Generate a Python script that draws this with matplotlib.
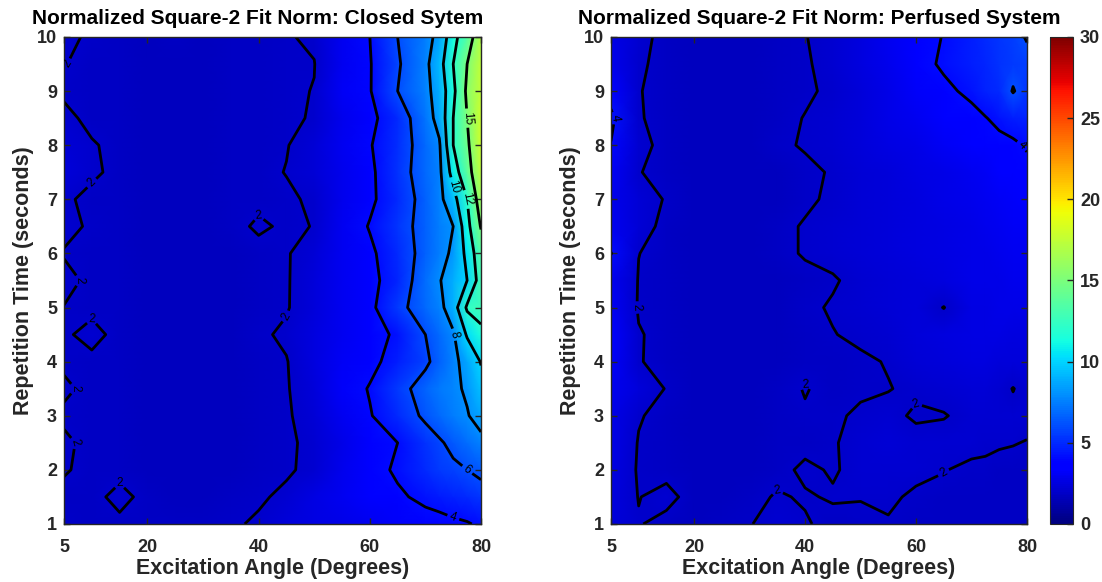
import numpy as np
import matplotlib
matplotlib.use('Agg')
import matplotlib.pyplot as plt

plt.rcParams['font.family'] = ['Liberation Sans', 'DejaVu Sans']

# grid: excitation angle (deg) across, repetition time (s) up
angles = [5, 10, 15, 20, 25, 30, 35, 40, 45, 50, 55, 60, 65, 70, 72.5, 75, 77.5, 80]
rep_times = [1.0, 1.5, 2.0, 2.5, 3.0, 3.5, 4.0, 4.5, 5.0, 5.5,
             6.0, 6.5, 7.0, 7.5, 8.0, 8.5, 9.0, 9.5, 10.0]

# fit norm, closed system (one row per repetition time)
closed_fit = [
    [1.95, 1.85, 1.85, 1.8, 1.8, 1.8, 1.9, 2.1, 2.4, 2.6, 2.8, 3.0, 3.2, 3.5, 3.6, 3.75, 3.9, 4.2],
    [1.85, 1.8, 2.2, 1.8, 1.75, 1.75, 1.8, 1.9, 2.15, 2.6, 3.0, 3.4, 3.8, 4.3, 4.5, 4.8, 5.0, 5.3],
    [2.05, 1.85, 1.8, 1.75, 1.75, 1.75, 1.75, 1.8, 1.9, 2.2, 2.9, 3.5, 4.2, 5.0, 5.4, 5.7, 6.0, 6.4],
    [2.1, 1.85, 1.8, 1.75, 1.75, 1.75, 1.75, 1.8, 1.9, 2.15, 2.8, 3.4, 4.0, 5.2, 5.8, 6.4, 7.0, 7.6],
    [1.9, 1.85, 1.8, 1.75, 1.75, 1.75, 1.75, 1.8, 1.92, 2.3, 3.0, 3.9, 5.0, 6.3, 6.9, 7.4, 7.9, 8.6],
    [2.1, 1.85, 1.8, 1.75, 1.75, 1.75, 1.75, 1.8, 1.95, 2.4, 3.2, 4.1, 5.4, 6.7, 7.3, 7.7, 8.2, 9.4],
    [1.9, 1.85, 1.8, 1.75, 1.75, 1.75, 1.75, 1.8, 1.97, 2.5, 3.1, 3.6, 4.6, 5.7, 6.6, 7.6, 8.6, 10.1],
    [1.9, 2.2, 1.8, 1.75, 1.75, 1.75, 1.75, 1.9, 2.1, 2.5, 3.0, 3.3, 4.3, 6.0, 6.9, 7.8, 10.2, 11.5],
    [1.98, 1.85, 1.8, 1.75, 1.75, 1.75, 1.75, 1.8, 1.95, 2.4, 3.0, 3.6, 5.5, 6.9, 7.5, 9.0, 12.3, 12.8],
    [2.2, 1.85, 1.8, 1.75, 1.75, 1.75, 1.75, 1.8, 1.95, 2.35, 3.0, 3.5, 4.9, 7.0, 7.9, 8.8, 10.0, 13.0],
    [1.95, 1.85, 1.8, 1.75, 1.75, 1.75, 1.75, 1.8, 1.95, 2.3, 3.0, 3.7, 5.0, 6.6, 7.4, 8.3, 10.5, 13.5],
    [2.2, 1.9, 1.8, 1.75, 1.75, 1.75, 1.8, 2.1, 1.9, 2.02, 3.0, 4.1, 5.3, 6.6, 7.4, 8.0, 11.2, 15.2],
    [2.1, 1.85, 1.8, 1.75, 1.75, 1.75, 1.8, 1.85, 1.9, 2.1, 2.9, 3.7, 5.0, 6.6, 7.5, 9.3, 12.0, 16.5],
    [2.35, 2.1, 1.85, 1.75, 1.75, 1.75, 1.8, 1.85, 2.02, 2.3, 2.9, 3.7, 5.2, 6.9, 7.6, 10.8, 13.8, 17.5],
    [2.3, 2.05, 1.85, 1.75, 1.75, 1.75, 1.8, 1.85, 1.97, 2.3, 3.0, 3.9, 5.1, 6.8, 7.8, 12.0, 14.5, 18.0],
    [2.15, 1.85, 1.8, 1.75, 1.75, 1.75, 1.8, 1.85, 1.9, 2.05, 2.9, 3.6, 5.0, 7.2, 8.6, 12.0, 15.0, 18.0],
    [1.9, 1.85, 1.8, 1.75, 1.75, 1.75, 1.8, 1.85, 1.9, 2.02, 3.1, 3.9, 6.0, 7.5, 8.8, 11.4, 15.5, 17.5],
    [2.02, 1.85, 1.8, 1.75, 1.75, 1.75, 1.8, 1.85, 1.9, 1.98, 3.0, 3.9, 5.8, 7.6, 9.2, 12.0, 15.0, 17.5],
    [2.15, 1.9, 1.8, 1.75, 1.8, 1.75, 1.8, 1.85, 1.95, 2.1, 3.0, 4.0, 6.0, 7.4, 8.5, 11.3, 13.5, 17.0],
]

# fit norm, perfused system
perfused_fit = [
    [2.4, 2.04, 1.8, 1.75, 1.8, 1.98, 2.15, 2.05, 1.85, 1.9, 1.95, 1.85, 1.8, 1.8, 1.8, 1.8, 1.8, 1.8],
    [2.5, 1.98, 2.2, 1.75, 1.75, 1.85, 2.05, 1.95, 2.05, 2.02, 2.1, 1.9, 1.85, 1.8, 1.8, 1.8, 1.8, 1.8],
    [2.6, 1.93, 1.8, 1.75, 1.75, 1.75, 1.85, 2.1, 1.95, 2.15, 2.2, 2.15, 2.02, 1.9, 1.9, 1.85, 1.85, 1.8],
    [2.7, 1.96, 1.8, 1.75, 1.75, 1.75, 1.8, 1.85, 1.95, 2.2, 2.3, 2.2, 2.2, 2.15, 2.1, 2.05, 2.02, 1.98],
    [2.8, 2.05, 1.8, 1.75, 1.75, 1.75, 1.8, 1.95, 1.9, 2.1, 2.15, 1.92, 1.97, 2.15, 2.15, 2.15, 2.15, 2.15],
    [3.0, 2.35, 1.97, 1.75, 1.75, 1.75, 1.8, 2.03, 1.85, 1.9, 1.98, 2.1, 2.2, 2.25, 2.25, 2.2, 1.98, 2.2],
    [3.2, 2.04, 1.8, 1.75, 1.75, 1.75, 1.75, 1.8, 1.85, 1.92, 2.03, 2.3, 2.4, 2.5, 2.5, 2.45, 2.4, 2.4],
    [3.3, 2.05, 1.8, 1.75, 1.75, 1.75, 1.75, 1.8, 1.98, 2.1, 2.2, 2.4, 2.5, 2.6, 2.6, 2.6, 2.55, 2.5],
    [3.1, 1.93, 1.8, 1.75, 1.75, 1.75, 1.75, 1.9, 2.05, 2.2, 2.3, 2.4, 1.98, 2.6, 2.65, 2.7, 2.7, 2.7],
    [3.0, 1.96, 1.8, 1.75, 1.75, 1.75, 1.75, 1.85, 1.95, 2.15, 2.3, 2.45, 2.55, 2.7, 2.75, 2.8, 2.85, 2.85],
    [4.05, 2.01, 1.8, 1.75, 1.75, 1.75, 1.85, 2.05, 2.15, 2.3, 2.4, 2.5, 2.6, 2.75, 2.8, 2.9, 2.95, 3.0],
    [3.0, 2.3, 1.8, 1.75, 1.75, 1.75, 1.85, 2.05, 2.2, 2.3, 2.45, 2.55, 2.65, 2.8, 2.9, 3.0, 3.05, 3.1],
    [2.9, 2.3, 1.95, 1.75, 1.75, 1.75, 1.75, 1.9, 2.1, 2.25, 2.4, 2.55, 2.7, 2.85, 2.95, 3.1, 3.2, 3.3],
    [3.1, 2.03, 1.8, 1.75, 1.75, 1.75, 1.75, 1.88, 2.05, 2.25, 2.4, 2.6, 2.8, 3.0, 3.1, 3.3, 3.5, 3.7],
    [3.95, 2.2, 1.8, 1.75, 1.75, 1.75, 1.9, 2.05, 2.2, 2.4, 2.6, 2.8, 3.1, 3.4, 3.5, 3.65, 3.8, 4.1],
    [4.3, 2.05, 1.8, 1.75, 1.75, 1.75, 1.85, 2.02, 2.2, 2.45, 2.7, 3.0, 3.3, 3.6, 3.95, 4.3, 4.6, 4.8],
    [3.4, 2.03, 1.8, 1.75, 1.75, 1.75, 1.8, 1.92, 2.1, 2.4, 2.8, 3.2, 3.7, 4.3, 4.7, 5.0, 6.1, 5.3],
    [2.9, 2.1, 1.8, 1.75, 1.75, 1.75, 1.8, 1.95, 2.15, 2.5, 2.9, 3.5, 4.2, 4.6, 4.9, 5.2, 5.5, 5.6],
    [2.7, 2.2, 1.8, 1.75, 1.75, 1.75, 1.85, 1.98, 2.2, 2.55, 3.0, 3.5, 4.05, 4.6, 5.0, 5.3, 5.6, 6.1],
]

titles = ['Normalized Square-2 Fit Norm: Closed Sytem',
          'Normalized Square-2 Fit Norm: Perfused System']
title_x = [0.465, 0.5]
levels = [2, 4, 6, 8, 10, 12, 15]
x_ticks = [5, 20, 40, 60, 80]
y_ticks = [1, 2, 3, 4, 5, 6, 7, 8, 9, 10]
cbar_ticks = [0, 5, 10, 15, 20, 25, 30]

A, T = np.meshgrid(angles, rep_times)

fig = plt.figure(figsize=(11.02, 5.82), dpi=100)
ax1 = fig.add_axes([0.0581, 0.0997, 0.3784, 0.8368])
ax2 = fig.add_axes([0.5544, 0.0997, 0.3775, 0.8368])
cax = fig.add_axes([0.9528, 0.0997, 0.0209, 0.8368])

edge = '#262626'
for ax, data, title, tx in zip([ax1, ax2], [closed_fit, perfused_fit], titles, title_x):
    Z = np.array(data)
    mesh = ax.pcolormesh(A, T, Z, shading='gouraud', cmap='jet', vmin=0, vmax=30)
    cs = ax.contour(A, T, Z, levels=levels, colors='k', linewidths=2.0)
    ax.clabel(cs, fmt='%d', fontsize=8.5, inline=True, inline_spacing=3)
    ax.set_xlim(5, 80)
    ax.set_ylim(1, 10)
    ax.set_xticks(x_ticks)
    ax.set_yticks(y_ticks)
    ax.tick_params(direction='in', top=True, right=True, length=4, width=1,
                   color=edge, labelcolor=edge, labelsize=13)
    ax.tick_params(axis='x', pad=11)
    ax.tick_params(axis='y', pad=5)
    for lab in ax.get_xticklabels() + ax.get_yticklabels():
        lab.set_fontweight('bold')
    for sp in ax.spines.values():
        sp.set_color(edge)
        sp.set_linewidth(1.0)
    ax.set_xlabel('Excitation Angle (Degrees)', fontsize=15.5, fontweight='bold',
                  color=edge, labelpad=1)
    ax.set_ylabel('Repetition Time (seconds)', fontsize=15.5, fontweight='bold',
                  color=edge, labelpad=2)
    ax.set_title(title, fontsize=15, fontweight='bold', pad=9, x=tx)

cb = fig.colorbar(mesh, cax=cax, ticks=cbar_ticks)
cb.ax.tick_params(direction='in', length=4, width=1, color=edge,
                  labelcolor=edge, labelsize=13, pad=5)
for lab in cb.ax.get_yticklabels():
    lab.set_fontweight('bold')
cb.outline.set_edgecolor(edge)

fig.savefig('out.png', dpi=100)
